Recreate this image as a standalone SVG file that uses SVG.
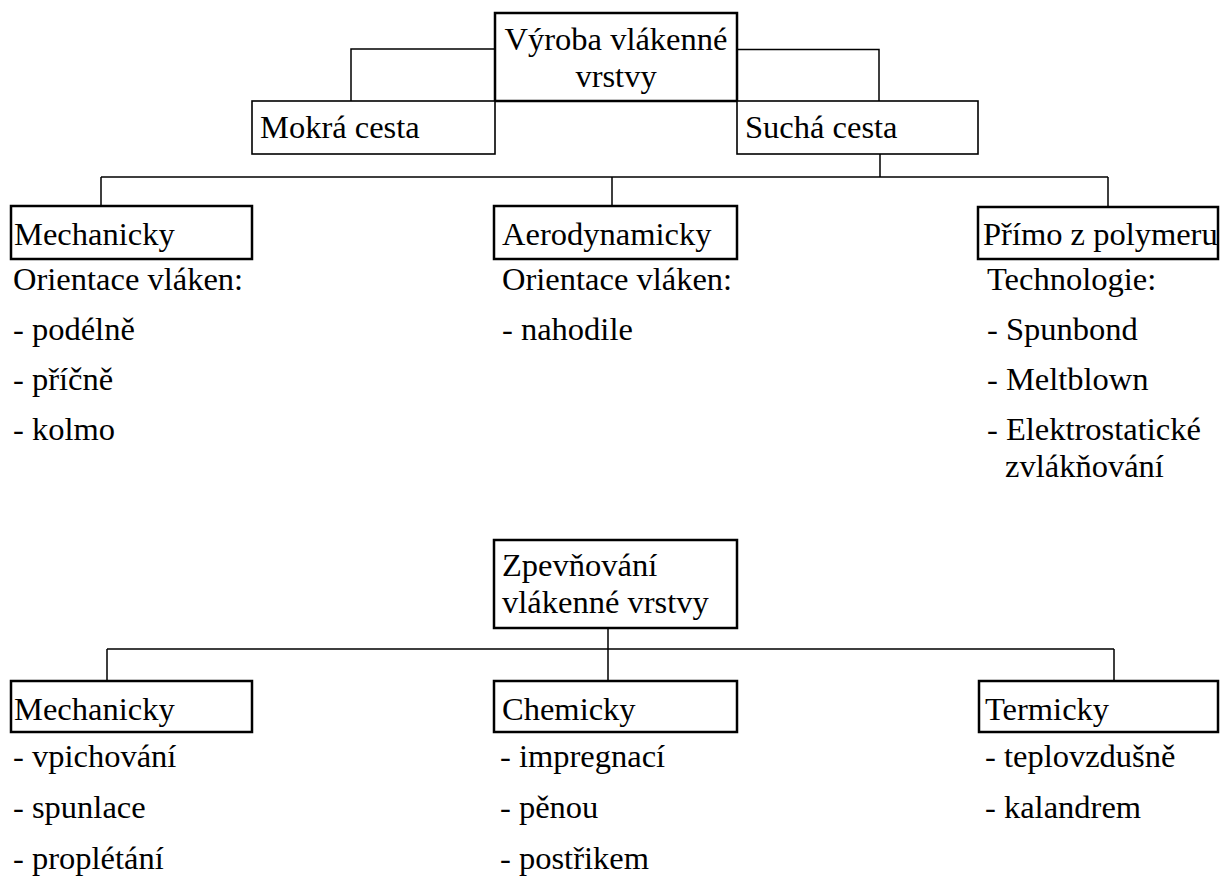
<svg xmlns="http://www.w3.org/2000/svg" width="1226" height="877" viewBox="0 0 1226 877">
<style>
text{font-size:32.5px;fill:#000}
.bx{fill:#fff;stroke:#000;stroke-width:2.5}
.bt{fill:#fff;stroke:#000;stroke-width:1.6}
.ln{fill:none;stroke:#000;stroke-width:1.5}
.c{text-anchor:middle}
</style>
<rect width="1226" height="877" fill="#fff"/>
<g id="connectors">
<path class="ln" d="M495,49 H351 V101"/>
<path class="ln" d="M734,49.5 H879 V101"/>
<path class="ln" d="M880,154 V177 M101,177 H1108 M101,177 V206 M612,177 V206 M1108,177 V207"/>
<path class="ln" d="M608,628 V681 M107,649 H1114 M107,649 V681 M1114,649 V681"/>
</g>
<g font-family="Liberation Serif, Times New Roman, DejaVu Serif, serif">
<g id="vyroba"><rect class="bx" x="495" y="13" width="242" height="88"/><text class="c" x="616" y="50">Výroba vlákenné</text><text class="c" x="616" y="87">vrstvy</text></g>
<g id="mokra"><rect class="bt" x="252" y="101" width="243" height="53"/><text x="260" y="138">Mokrá cesta</text></g>
<g id="sucha"><rect class="bt" x="737" y="101" width="241" height="53"/><text x="745" y="138">Suchá cesta</text></g>
<g id="mech1"><rect class="bx" x="11" y="206" width="241" height="53"/><text x="14" y="245">Mechanicky</text></g>
<g id="aero"><rect class="bx" x="494" y="206" width="243" height="53"/><text x="502" y="245">Aerodynamicky</text></g>
<g id="primo"><rect class="bx" x="978" y="207" width="240" height="52"/><text x="983" y="245">Přímo z polymeru</text></g>
<g id="list1"><text x="13" y="290">Orientace vláken:</text><text x="13" y="340">- podélně</text><text x="13" y="390">- příčně</text><text x="13" y="440">- kolmo</text></g>
<g id="list2"><text x="502" y="290">Orientace vláken:</text><text x="502" y="340">- nahodile</text></g>
<g id="list3"><text x="987" y="290">Technologie:</text><text x="987" y="340">- Spunbond</text><text x="987" y="390">- Meltblown</text><text x="987" y="440">- Elektrostatické</text><text x="1005" y="477">zvlákňování</text></g>
<g id="zpev"><rect class="bx" x="494" y="540" width="243" height="88"/><text x="502" y="576">Zpevňování</text><text x="502" y="613">vlákenné vrstvy</text></g>
<g id="mech2"><rect class="bx" x="11" y="681" width="241" height="51"/><text x="14" y="720">Mechanicky</text></g>
<g id="chem"><rect class="bx" x="494" y="681" width="243" height="51"/><text x="502" y="720">Chemicky</text></g>
<g id="term"><rect class="bx" x="979" y="681" width="239" height="51"/><text x="985" y="720">Termicky</text></g>
<g id="list4"><text x="13" y="767">- vpichování</text><text x="13" y="818">- spunlace</text><text x="13" y="869">- proplétání</text></g>
<g id="list5"><text x="500" y="767">- impregnací</text><text x="500" y="818">- pěnou</text><text x="500" y="869">- postřikem</text></g>
<g id="list6"><text x="985" y="767">- teplovzdušně</text><text x="985" y="818">- kalandrem</text></g>
</g>
</svg>
